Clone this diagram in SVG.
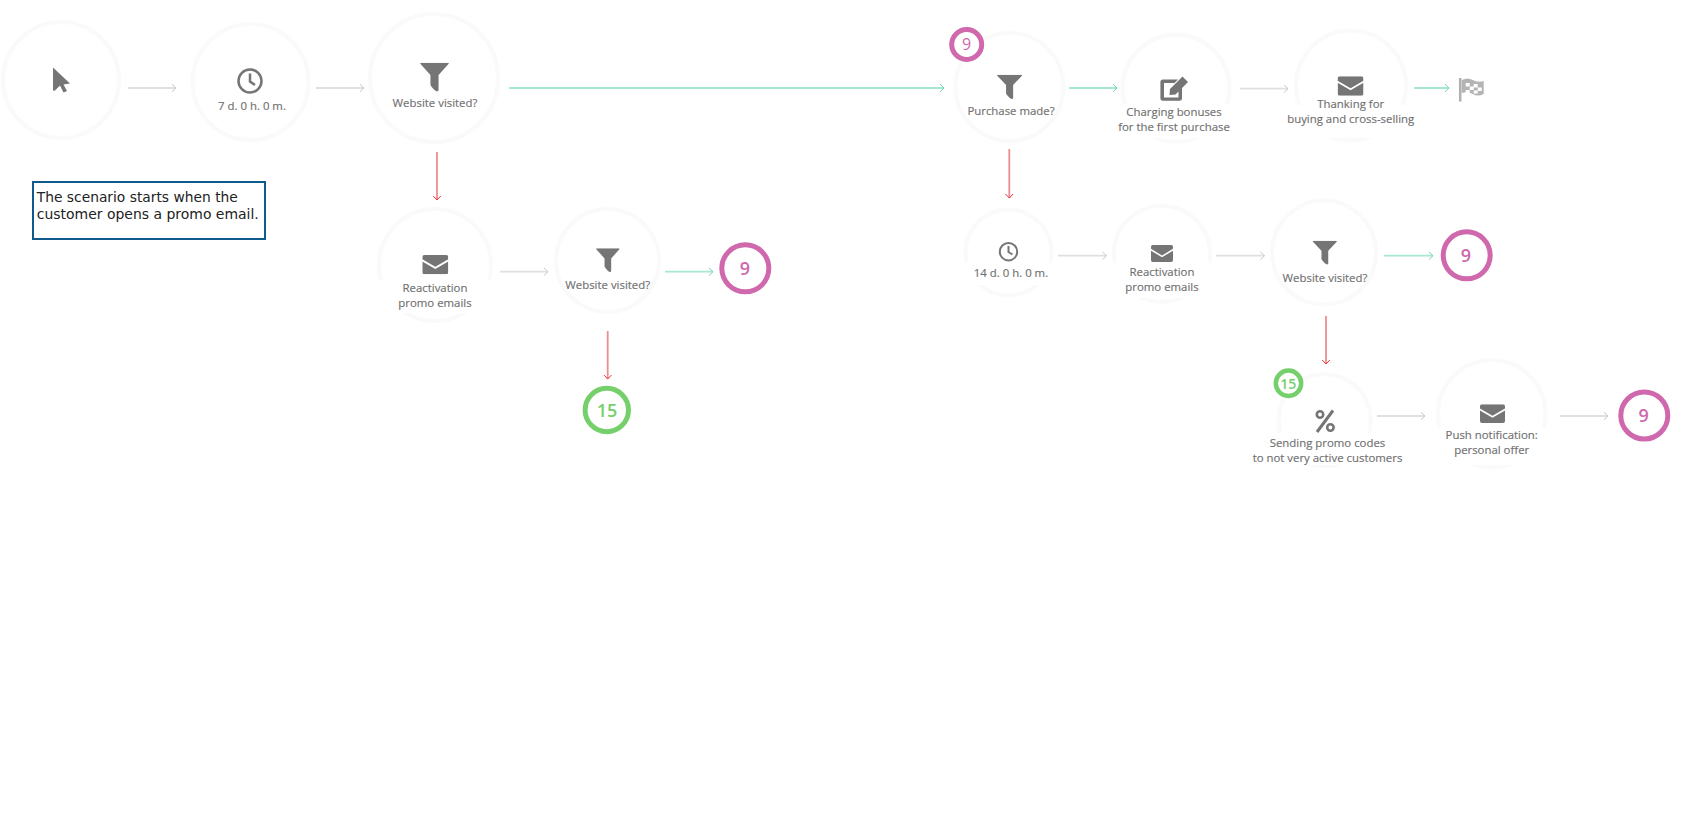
<svg xmlns="http://www.w3.org/2000/svg" xmlns:xlink="http://www.w3.org/1999/xlink" width="1684" height="822" viewBox="0 0 1684 822">
<style>
.ring{fill:none;stroke:#fafafa;stroke-width:4}
.cut{fill:#fff}
.icon{fill:#757575}
.t{font-family:"Open Sans","DejaVu Sans",sans-serif;font-size:11.4px;fill:#707070;text-anchor:middle;stroke:#707070;stroke-width:.15}
.g,.m{fill:none;stroke-width:5}
.m{stroke:#cf68ac}.g{stroke:#75d06b}
.mt,.gt{font-family:"Open Sans","DejaVu Sans",sans-serif;font-size:18px;font-weight:600;text-anchor:middle}
.mt{fill:#cf68ac}.gt{fill:#75d06b}
.a{fill:none;stroke-width:1.8}
.ga{stroke:#e0e0e0;marker-end:url(#hg)}
.ta{stroke:#a6e6d2;marker-end:url(#ht)}
.ra{stroke:#ee8d90;marker-end:url(#hr)}
.note{font-family:"DejaVu Sans","Liberation Sans",sans-serif;font-size:13.5px;fill:#222}
</style>
<defs>
<marker id="hg" markerUnits="userSpaceOnUse" markerWidth="8" markerHeight="10" refX="5.5" refY="5" orient="auto"><path d="M1.5 1.200L5.500 5L1.500 8.800" fill="none" stroke="#c8c8c8" stroke-width="1"/></marker>
<marker id="ht" markerUnits="userSpaceOnUse" markerWidth="8" markerHeight="10" refX="5.5" refY="5" orient="auto"><path d="M1.5 1.200L5.500 5L1.500 8.800" fill="none" stroke="#6fd8b6" stroke-width="1"/></marker>
<marker id="hr" markerUnits="userSpaceOnUse" markerWidth="8" markerHeight="10" refX="5.5" refY="5" orient="auto"><path d="M1.5 1.200L5.500 5L1.500 8.800" fill="none" stroke="#e8353c" stroke-width="1"/></marker>
<symbol id="funnel" viewBox="0 0 100 100" preserveAspectRatio="none"><path class="icon" d="M3 0H97Q100 0 99 4L64 42V94Q64 100 58 99Q50 96 38 80Q36 78 36 74V42L1 4Q0 0 3 0Z"/></symbol>
<symbol id="mail" viewBox="0 0 100 75" preserveAspectRatio="none"><path class="icon" d="M8 0H92Q100 0 100 8V17L50 46L0 17V8Q0 0 8 0ZM0 25L50 54L100 25V67Q100 75 92 75H8Q0 75 0 67Z"/></symbol>
</defs>

<g id="connectors">
<path class="a ga" d="M128 88H176"/>
<path class="a ga" d="M316 88H364"/>
<path class="a ta" d="M509 88H944"/>
<path class="a ra" d="M437 152V200"/>
<path class="a ga" d="M500 271.700H548"/>
<path class="a ta" d="M665 271.700H713"/>
<path class="a ra" d="M607.700 331V379"/>
<path class="a ta" d="M1069 88H1117"/>
<path class="a ga" d="M1240 88.700H1288"/>
<path class="a ta" d="M1414 88H1449"/>
<path class="a ra" d="M1009.300 149V198"/>
<path class="a ga" d="M1058 255.700H1106.500"/>
<path class="a ga" d="M1216 255.700H1264.500"/>
<path class="a ta" d="M1384 255.700H1433"/>
<path class="a ra" d="M1326 316V364"/>
<path class="a ga" d="M1377 416H1425"/>
<path class="a ga" d="M1560 416H1608"/>
</g>

<g id="n-start">
<circle class="ring" cx="61" cy="80" r="58"/>
<path class="icon" d="M53 67.500L70 83.500L63.500 84.500L67 91L63.500 92.500L60 85.500L55 90.500Q53 91.500 53 89.500Z"/>
</g>
<g id="n-wait7">
<circle class="ring" cx="250.500" cy="82" r="58"/>
<circle cx="250" cy="81" r="11.500" fill="none" stroke="#757575" stroke-width="2.500"/>
<path d="M250 73.500V81.500L255 85" fill="none" stroke="#757575" stroke-width="2.500"/>
<text class="t" x="252" y="110">7 d. 0 h. 0 m.</text>
</g>
<g id="n-visited1">
<circle class="ring" cx="434" cy="78" r="64"/>
<use xlink:href="#funnel" href="#funnel" x="420" y="62.700" width="29" height="29"/>
<text class="t" x="435" y="106.700">Website visited?</text>
</g>
<g id="note">
<rect x="33" y="182" width="232" height="57" fill="#fff" stroke="#0f5a8c" stroke-width="2"/>
<text class="note" x="36.800" y="202" textLength="201" lengthAdjust="spacingAndGlyphs">The scenario starts when the</text>
<text class="note" x="36.800" y="219" textLength="222" lengthAdjust="spacingAndGlyphs">customer opens a promo email.</text>
</g>
<g id="n-react1">
<circle class="ring" cx="435" cy="265" r="56"/>
<rect class="cut" x="370" y="280" width="130" height="33"/>
<use xlink:href="#mail" href="#mail" x="422.300" y="255" width="26" height="19.300"/>
<text class="t" x="435" y="292">Reactivation</text>
<text class="t" x="435" y="307">promo emails</text>
</g>
<g id="n-visited2">
<circle class="ring" cx="607.500" cy="260.500" r="51.500"/>
<use xlink:href="#funnel" href="#funnel" x="596" y="248.300" width="23.700" height="24"/>
<text class="t" x="607.700" y="288.700">Website visited?</text>
</g>
<g id="n-goto9a">
<circle class="m" cx="745.300" cy="268.300" r="23.500"/>
<text class="mt" x="745" y="275">9</text>
</g>
<g id="n-goto15">
<circle class="g" cx="606.800" cy="410" r="21.700"/>
<text class="gt" x="607" y="416.700">15</text>
</g>
<g id="n-purchase">
<circle class="ring" cx="1009.500" cy="87" r="54"/>
<use xlink:href="#funnel" href="#funnel" x="997" y="74.700" width="25.200" height="24.600"/>
<text class="t" x="1011" y="115">Purchase made?</text>
</g>
<g id="badge9">
<circle cx="966.700" cy="44.500" r="15" fill="#fff" stroke="#cf68ac" stroke-width="5"/>
<text font-family="'Open Sans',sans-serif" font-size="16" font-weight="500" fill="#cf68ac" text-anchor="middle" x="966.500" y="50.300">9</text>
</g>
<g id="n-bonus">
<circle class="ring" cx="1176" cy="88.300" r="53.500"/>
<rect class="cut" x="1113" y="104" width="125" height="34"/>
<g transform="translate(-2 0)"><path class="icon" d="M1165 79.500H1180L1176.500 83H1166V97.500H1180.500V91L1184 87.500V98.500Q1184 100.700 1181.500 100.700H1165Q1162.400 100.700 1162.400 98.500V82Q1162.400 79.500 1165 79.500ZM1172 89L1184.500 76.500L1190 82L1177.500 94.500L1171.500 95Z"/></g>
<text class="t" x="1174" y="116">Charging bonuses</text>
<text class="t" x="1174" y="130.700">for the first purchase</text>
</g>
<g id="n-thanks">
<circle class="ring" cx="1351" cy="85.500" r="55"/>
<rect class="cut" x="1283" y="105" width="135" height="33"/>
<use xlink:href="#mail" href="#mail" x="1337.600" y="76.300" width="25.900" height="19.400"/>
<text class="t" x="1350.700" y="108.300">Thanking for</text>
<text class="t" x="1350.700" y="123.300">buying and cross-selling</text>
</g>
<g id="n-finish" transform="translate(-2.300 0)">
<path d="M1462.500 78V101.500" stroke="#b0b0b0" stroke-width="2.500" fill="none"/>
<path fill="#b4b4b4" d="M1464 80Q1470 77 1475 80T1486 81V94Q1480 97 1475 94T1464 93Z"/>
<path fill="#fff" d="M1468 83h4v3.500h-4zM1476 84h4v3.500h-4zM1472 86.500h4v3.500h-4zM1480 87.500h4v3.500h-4zM1468 90h4v3h-4zM1476 90.500h4v3h-4z"/>
</g>
<g id="n-wait14">
<circle class="ring" cx="1008.500" cy="252.500" r="43"/>
<rect class="cut" x="955" y="263" width="105" height="22"/>
<circle cx="1008.500" cy="251.700" r="8.700" fill="none" stroke="#757575" stroke-width="2"/>
<path d="M1008.500 246V252L1012.500 254.500" fill="none" stroke="#757575" stroke-width="2"/>
<text class="t" x="1011" y="276.700">14 d. 0 h. 0 m.</text>
</g>
<g id="n-react2">
<circle class="ring" cx="1162" cy="253.700" r="48"/>
<rect class="cut" x="1104" y="263" width="115" height="35"/>
<use xlink:href="#mail" href="#mail" x="1151" y="245" width="22" height="17"/>
<text class="t" x="1162" y="276">Reactivation</text>
<text class="t" x="1162" y="291">promo emails</text>
</g>
<g id="n-visited3">
<circle class="ring" cx="1324" cy="252.500" r="52"/>
<use xlink:href="#funnel" href="#funnel" x="1312.700" y="240.700" width="24.300" height="24"/>
<text class="t" x="1325" y="281.700">Website visited?</text>
</g>
<g id="n-goto9b">
<circle class="m" cx="1466.700" cy="255.300" r="23.500"/>
<text class="mt" x="1466" y="262.300">9</text>
</g>
<g id="n-promo">
<circle class="ring" cx="1324.700" cy="420.300" r="46"/>
<rect class="cut" x="1250" y="433" width="150" height="32"/>
<circle cx="1320" cy="414.500" r="3.200" fill="none" stroke="#757575" stroke-width="2.600"/>
<circle cx="1330.400" cy="427.500" r="3.200" fill="none" stroke="#757575" stroke-width="2.600"/>
<path d="M1333 410.500L1317 432" stroke="#757575" stroke-width="3" fill="none"/>
<text class="t" x="1327.500" y="446.700">Sending promo codes</text>
<text class="t" x="1327.500" y="461.700">to not very active customers</text>
</g>
<g id="badge15">
<circle cx="1288.500" cy="383.300" r="12.700" fill="#fff" stroke="#75d06b" stroke-width="4.500"/>
<text font-family="'Open Sans',sans-serif" font-size="14" font-weight="600" fill="#75d06b" text-anchor="middle" x="1288.300" y="389">15</text>
</g>
<g id="n-push">
<circle class="ring" cx="1491.700" cy="413.800" r="53.700"/>
<rect class="cut" x="1430" y="427" width="125" height="38"/>
<use xlink:href="#mail" href="#mail" x="1480" y="404.300" width="25" height="18.700"/>
<text class="t" x="1491.700" y="438.700">Push notification:</text>
<text class="t" x="1491.700" y="453.700">personal offer</text>
</g>
<g id="n-goto9c">
<circle class="m" cx="1644.300" cy="415.500" r="23.500"/>
<text class="mt" x="1643.700" y="422.300">9</text>
</g>
</svg>
